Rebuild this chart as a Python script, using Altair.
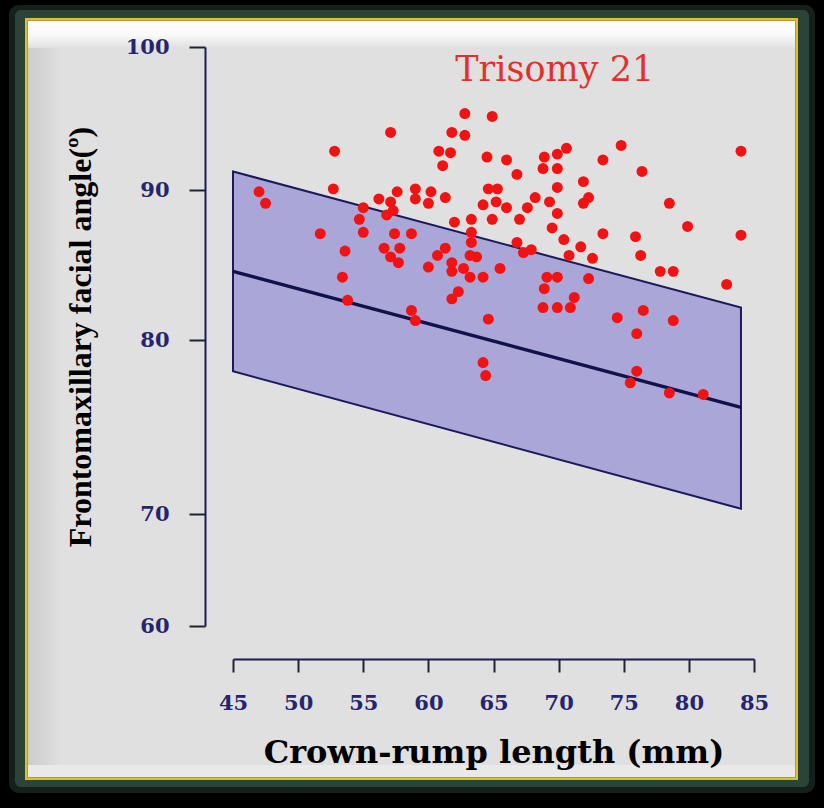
import altair as alt
import pandas as pd

# ---------------- data ----------------
crl = [
    47.0, 47.5, 51.7, 52.8, 52.7, 53.6, 53.4, 53.8, 55.0, 54.7,
    55.0, 56.2, 57.1, 57.1, 57.6, 57.3, 56.8, 57.4, 56.6, 57.8,
    57.1, 57.7, 58.7, 58.7, 59.0, 59.0, 59.0, 60.0, 60.2, 60.0,
    60.8, 61.7, 61.1, 61.3, 61.3, 60.7, 61.8, 62.8, 62.8, 62.0,
    63.3, 63.3, 63.3, 63.2, 63.7, 61.8, 61.8, 62.7, 63.2, 64.2,
    62.3, 61.8, 64.9, 64.5, 64.6, 65.3, 65.2, 64.2, 64.9, 65.5,
    64.6, 64.2, 64.4, 66.0, 66.0, 66.8, 67.0, 66.8, 67.9, 67.3,
    67.6, 68.2, 68.9, 68.8, 69.9, 70.6, 69.9, 69.9, 69.3, 69.9,
    69.5, 70.4, 71.7, 70.8, 72.6, 69.1, 69.9, 68.9, 71.2, 68.8,
    69.9, 70.9, 71.9, 72.3, 71.9, 72.3, 73.4, 73.4, 74.8, 74.5,
    76.5, 76.4, 75.9, 76.3, 76.0, 76.0, 75.5, 77.8, 78.8, 78.5,
    78.8, 78.5, 79.9, 81.1, 82.9, 84.0, 84.0,
]
fma = [
    90.0, 89.2, 87.1, 92.8, 90.2, 85.9, 84.1, 82.5, 88.9, 88.1,
    87.2, 89.5, 94.1, 89.3, 90.0, 88.7, 88.4, 87.1, 86.1, 86.1,
    85.5, 85.1, 87.1, 81.8, 81.1, 90.2, 89.5, 89.2, 90.0, 84.8,
    92.8, 92.7, 91.8, 89.6, 86.1, 85.6, 94.1, 93.9, 95.4, 87.9,
    88.1, 87.2, 86.5, 85.6, 85.5, 85.1, 84.5, 84.7, 84.1, 84.1,
    83.1, 82.6, 95.2, 92.4, 90.2, 90.2, 89.3, 89.1, 88.1, 84.7,
    81.2, 78.2, 77.3, 92.2, 88.9, 91.2, 88.1, 86.5, 86.0, 85.8,
    88.9, 89.6, 92.4, 91.6, 92.6, 93.0, 91.6, 90.3, 89.3, 88.5,
    87.5, 86.7, 86.2, 85.6, 85.4, 84.1, 84.1, 83.3, 82.7, 82.0,
    82.0, 82.0, 90.7, 89.6, 89.2, 84.0, 92.2, 87.1, 93.2, 81.3,
    81.8, 91.4, 86.9, 85.6, 80.2, 77.6, 76.8, 84.5, 84.5, 89.2,
    81.1, 76.1, 87.6, 76.0, 83.6, 92.8, 87.0,
]

band_crl = [45, 84]
band_upper = [91.4, 82.0]
band_mean = [84.5, 75.1]
band_lower = [77.6, 68.1]

x_ticks = [45, 50, 55, 60, 65, 70, 75, 80, 85]
y_ticks = [60, 70, 80, 90, 100]

label_text = ["Trisomy 21"]
label_crl = [69.7]
label_fma = [98.4]

# ---------------- layout ----------------
W, H = 521, 579
PL, PT = 233, 47
PR, PB = 824 - PL - W, 808 - PT - H

points_df = pd.DataFrame({"crl": crl, "fma": fma})
band_df = pd.DataFrame({"crl": band_crl, "upper": band_upper,
                        "mean": band_mean, "lower": band_lower})
label_df = pd.DataFrame({"crl": label_crl, "fma": label_fma, "text": label_text})
axis_df = pd.DataFrame({"v": y_ticks})

xscale = alt.Scale(domain=[45, 85], nice=False, zero=False)
yscale = alt.Scale(domain=[60, 100], nice=False, zero=False)

LABEL_FONT = "DejaVu Serif"
LABEL_COLOR = "#25256e"
AXIS_COLOR = "#1b1b55"

x_axis = alt.Axis(
    title="Crown-rump length (mm)", values=x_ticks, offset=33, grid=False,
    tickSize=13, tickWidth=2, tickColor="#222233", domainColor=AXIS_COLOR,
    domainWidth=2, labelFont=LABEL_FONT, labelFontSize=21, labelFontWeight="bold",
    labelColor=LABEL_COLOR, labelBaseline="middle", labelPadding=31,
    labelFlush=False,
    titleFont="DejaVu Serif", titleFontSize=32, titleFontWeight="bold",
    titleColor="black", titleY=93, titleBaseline="middle", zindex=1,
)
X = alt.X("crl:Q", scale=xscale, axis=x_axis)

# -------- decorative frame (page background) --------
one = alt.Data(values=[{}])


def deco(x0, y0, x1, y1, **mark):
    return alt.Chart(one).mark_rect(**mark).encode(
        x=alt.value(x0 - PL), x2=alt.value(x1 - PL),
        y=alt.value(y0 - PT), y2=alt.value(y1 - PT),
    )


glow_outer = deco(9, 5, 815, 793, color="#1a2822", cornerRadius=10, opacity=0.8)
glow = deco(15, 10, 809, 787, color="#2c4438", cornerRadius=6)
gold = deco(25, 18, 798, 780, color="#dcc02c")
gold_in = deco(27, 20, 796, 778, color="#b89a30")
panel = deco(28, 21, 795, 777, color="#e0e0e0")
top_bevel = deco(28, 21, 795, 48, color=alt.LinearGradient(
    gradient="linear", x1=0, x2=0, y1=0, y2=1,
    stops=[alt.GradientStop(color="#ffffff", offset=0),
           alt.GradientStop(color="#fafafa", offset=0.5),
           alt.GradientStop(color="#e0e0e0", offset=1)]))
left_bevel = deco(28, 48, 62, 765, color=alt.LinearGradient(
    gradient="linear", x1=0, x2=1, y1=0, y2=0,
    stops=[alt.GradientStop(color="#cdcdcd", offset=0),
           alt.GradientStop(color="#e0e0e0", offset=1)]))
bottom_bevel = deco(28, 765, 795, 777, color="#e9e9e9")

# -------- y axis (its own scale, as printed in the figure) --------
axis_layer = alt.Chart(axis_df).mark_tick(opacity=0).encode(
    y=alt.Y("v:Q",
            scale=alt.Scale(domain=y_ticks, range=[579, 467, 293, 143, 0],
                            nice=False, zero=False),
            axis=alt.Axis(
                title="Frontomaxillary facial angle(º)", orient="left",
                values=y_ticks, offset=28, grid=False, tickSize=16, tickWidth=2,
                tickColor="#222233", domainColor=AXIS_COLOR, domainWidth=2,
                labelFont=LABEL_FONT, labelFontSize=21, labelFontWeight="bold",
                labelColor=LABEL_COLOR, labelPadding=20, labelFlush=False,
                titleFont="Liberation Serif", titleFontSize=32,
                titleFontWeight="bold", titleColor="black", titleX=-125,
                titleBaseline="middle", titleAngle=-90, zindex=1)),
)

# -------- data layers --------
band = alt.Chart(band_df).mark_area(
    color="#aaa6d8", opacity=1, stroke="#1a1a5c", strokeWidth=2
).encode(
    x=X, y=alt.Y("upper:Q", scale=yscale, axis=None), y2="lower:Q",
)
mean_line = alt.Chart(band_df).mark_line(color="#11114c", strokeWidth=3.5).encode(
    x=X, y=alt.Y("mean:Q", scale=yscale, axis=None),
)
pts = alt.Chart(points_df).mark_point(
    filled=True, color="#f21212", size=120, opacity=1
).encode(
    x=X, y=alt.Y("fma:Q", scale=yscale, axis=None),
)
label = alt.Chart(label_df).mark_text(
    font="DejaVu Serif", fontSize=35, color="#e3302c", align="center",
    baseline="middle"
).encode(
    x=X, y=alt.Y("fma:Q", scale=yscale, axis=None), text="text:N",
)

data_group = alt.layer(band, mean_line, pts, label)

chart = alt.layer(
    glow_outer, glow, gold, gold_in, panel, top_bevel, left_bevel, bottom_bevel,
    axis_layer, data_group,
).resolve_scale(y="independent").properties(
    width=W, height=H,
    padding={"left": PL, "top": PT, "right": PR, "bottom": PB},
    autosize=alt.AutoSizeParams(type="none"),
    background="black",
).configure_view(stroke=None)

chart.save("out.html", embed_options={"renderer": "svg", "actions": False})
